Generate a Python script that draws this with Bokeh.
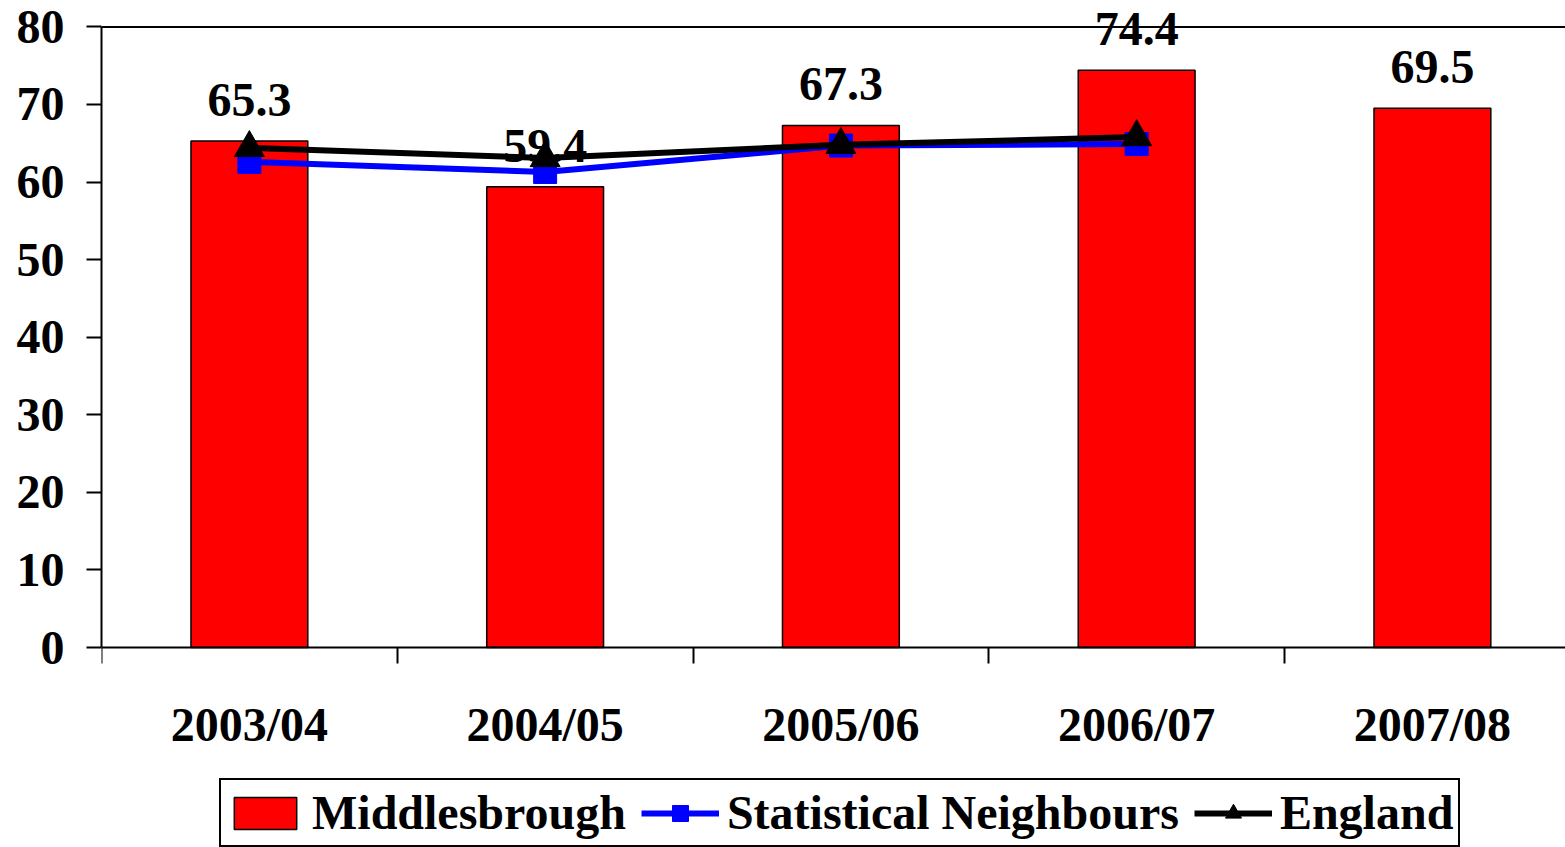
from bokeh.plotting import figure
from bokeh.models import (Range1d, FixedTicker, Span, Legend, LegendItem, ColumnDataSource)
from bokeh.core.properties import value
from bokeh.embed import file_html
from bokeh.resources import INLINE

categories = ["2003/04", "2004/05", "2005/06", "2006/07", "2007/08"]
middlesbrough = [65.3, 59.4, 67.3, 74.4, 69.5]
stat_neighbours = [62.6, 61.3, 64.7, 64.9]
england = [64.4, 63.1, 64.8, 65.8]
y_ticks = [0, 10, 20, 30, 40, 50, 60, 70, 80]

FONT = "Liberation Serif"
FS = "48px"

xc = [i + 0.5 for i in range(len(categories))]
xl = xc[:len(stat_neighbours)]

p = figure(width=1565, height=847, output_backend="svg", toolbar_location=None,
           x_range=Range1d(0, 4.95), y_range=Range1d(-25.77, 83.4),
           min_border_left=101, min_border_right=0, min_border_top=0, min_border_bottom=0)
p.title = None
p.outline_line_color = None
p.xgrid.visible = False
p.ygrid.visible = False
p.background_fill_color = "white"

bar_src = ColumnDataSource(dict(x=xc, top=middlesbrough, lab=[f"{v:.1f}" for v in middlesbrough]))
bars = p.vbar(x="x", top="top", width=0.395, bottom=0, source=bar_src,
              fill_color="#FF0000", line_color="black", line_width=1.5)
p.text(x="x", y="top", text="lab", source=bar_src, text_align="center",
       text_baseline="alphabetic", y_offset=-41, text_font=value(FONT),
       text_font_size=FS, text_font_style="bold", text_color="black")

sn_line = p.line(xl, stat_neighbours, line_color="#0000FF", line_width=6)
sn_pts = p.scatter(xl, stat_neighbours, marker="square", size=23, fill_color="#0000FF", line_color="#0000FF")
en_line = p.line(xl, england, line_color="black", line_width=6)
en_pts = p.scatter(xl, england, marker="triangle", size=30, fill_color="black", line_color="black")

p.add_layout(Span(location=80, dimension="width", line_color="black", line_width=2))

# y axis
ya = p.yaxis[0]
ya.ticker = FixedTicker(ticks=y_ticks)
ya.bounds = (0, 80)
ya.axis_line_width = 2
ya.major_tick_line_width = 2
ya.major_tick_out = 15
ya.major_tick_in = 0
ya.minor_tick_line_color = None
ya.major_label_standoff = 22
ya.major_label_text_font = FONT
ya.major_label_text_font_size = FS
ya.major_label_text_font_style = "bold"
ya.major_label_text_color = "black"

# x axis (drawn at y = 0 inside the frame)
xa = p.xaxis[0]
xa.fixed_location = 0
xa.ticker = FixedTicker(ticks=xc, minor_ticks=[0, 1, 2, 3, 4])
xa.major_label_overrides = {x: c for x, c in zip(xc, categories)}
xa.axis_line_width = 2
xa.major_tick_line_color = None
xa.major_tick_out = 16
xa.major_tick_in = 0
xa.minor_tick_line_width = 2
xa.minor_tick_line_color = "black"
xa.minor_tick_out = 16
xa.minor_tick_in = 0
xa.major_label_standoff = 34
xa.major_label_text_font = FONT
xa.major_label_text_font_size = FS
xa.major_label_text_font_style = "bold"
xa.major_label_text_color = "black"

legend = Legend(items=[
    LegendItem(label="Middlesbrough", renderers=[bars]),
    LegendItem(label="Statistical Neighbours", renderers=[sn_line, sn_pts]),
    LegendItem(label="England", renderers=[en_line, en_pts]),
], orientation="horizontal", location=(118, 0))
legend.label_text_font = FONT
legend.label_text_font_size = FS
legend.label_text_font_style = "bold"
legend.label_text_color = "black"
legend.glyph_width = 78
legend.glyph_height = 40
legend.label_standoff = 8
legend.spacing = 15
legend.padding = 5
legend.margin = 0
legend.border_line_color = "black"
legend.border_line_alpha = 1
legend.border_line_width = 2
legend.background_fill_color = "white"
legend.background_fill_alpha = 1
p.add_layout(legend)

open("out.html", "w").write(file_html(p, INLINE))
